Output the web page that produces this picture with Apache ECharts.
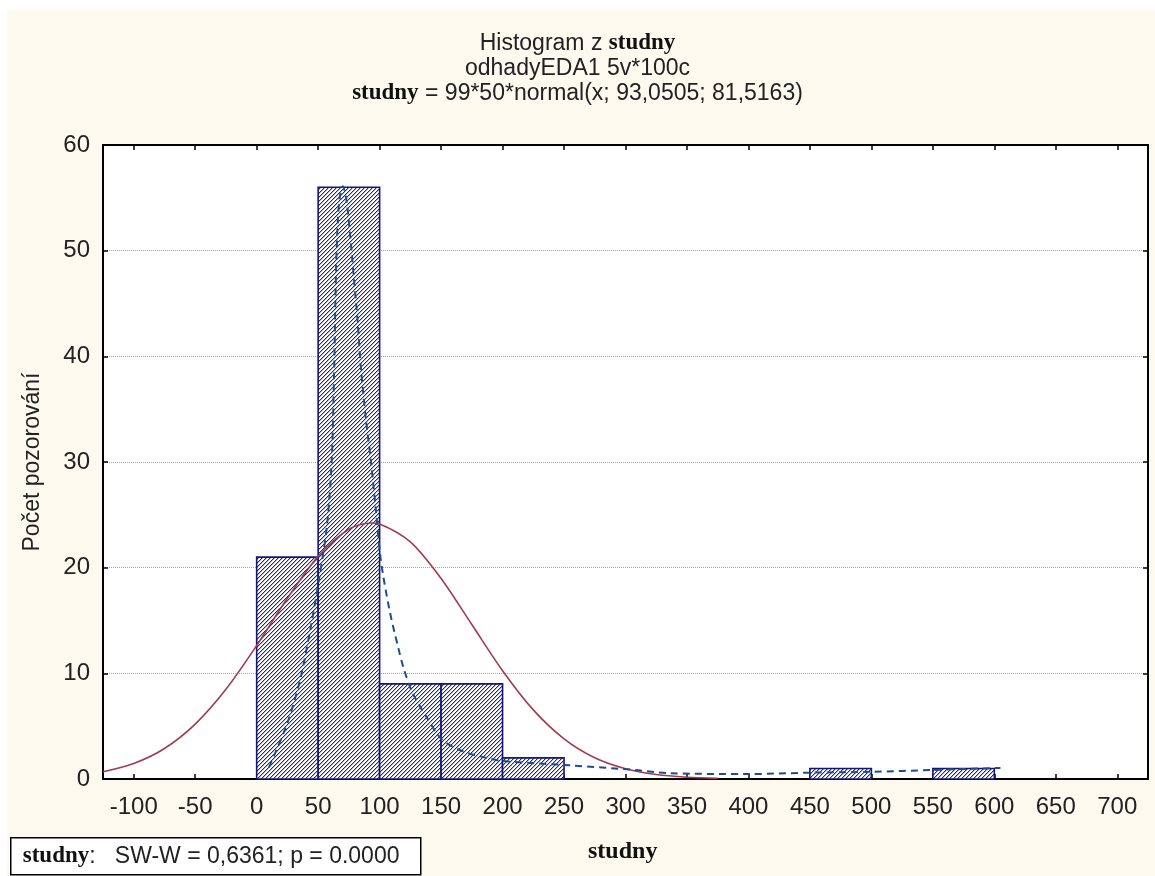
<!DOCTYPE html>
<html>
<head>
<meta charset="utf-8">
<script src="https://cdn.jsdelivr.net/npm/echarts@6/dist/echarts.min.js"></script>
<style>
  html, body { margin: 0; padding: 0; background: #ffffff; }
  #chart { width: 1155px; height: 876px; }
</style>
</head>
<body>
<div id="chart"></div>
<script>
// Histogram bins of "studny" (bin start, bin end, count)
const binStart = [0, 50, 100, 150, 200, 450, 550];
const binEnd   = [50, 100, 150, 200, 250, 500, 600];
const counts   = [21, 56, 9, 9, 2, 1, 1];

// Fitted normal curve: 99*50*normal(x; 93,0505; 81,5163)
const normalX = [-125, -100, -75, -50, -25, 0, 25, 50, 75, 93, 100, 125, 150, 175, 200, 225, 250, 275, 300, 325, 350, 375];
const normalY = [0.68, 1.47, 2.89, 5.20, 8.49, 12.63, 17.10, 21.07, 23.64, 24.23, 24.14, 22.44, 18.98, 14.62, 10.25, 6.54, 3.80, 2.01, 0.97, 0.42, 0.17, 0.06];

// Second fitted curve (dashed)
const fitX = [10, 25, 36, 44, 51, 57, 61, 63, 64.5, 66, 67.5, 70, 73, 76, 79, 82, 85, 89, 93, 97, 101, 108, 115, 120, 127, 138, 151, 168, 187, 200, 254, 308, 335, 400, 450, 500, 550, 605];
const fitY = [1.1, 5.3, 9.7, 14.4, 19.1, 23.8, 30.0, 38.6, 48.0, 52.8, 55.0, 56.1, 54.8, 51.5, 47.5, 43.5, 38.6, 33.9, 30.0, 25.4, 20.7, 16.0, 12.5, 10.3, 8.1, 5.9, 3.7, 2.6, 2.0, 1.7, 1.3, 0.85, 0.55, 0.47, 0.6, 0.68, 0.85, 1.05];

// Axis ticks
const xTicks = [-100, -50, 0, 50, 100, 150, 200, 250, 300, 350, 400, 450, 500, 550, 600, 650, 700];

const histData = binStart.map((s, i) => [s, binEnd[i], counts[i]]);
const normalData = normalX.map((x, i) => [x, normalY[i]]);
const fitData = fitX.map((x, i) => [x, fitY[i]]);

// Diagonal hatch pattern for the bars
function makeHatch() {
  const c = document.createElement('canvas');
  c.width = 4; c.height = 4;
  const g = c.getContext('2d');
  g.fillStyle = '#ffffff';
  g.fillRect(0, 0, 4, 4);
  for (let i = 0; i < 4; i++) {
    g.fillStyle = '#2a2a5e';
    g.fillRect(i, 3 - i, 1, 1);
    g.fillStyle = '#b4b4cc';
    g.fillRect(i, (4 - i) % 4, 1, 1);
  }
  return c;
}
const hatch = { image: makeHatch(), repeat: 'repeat' };

const sans = 'Liberation Sans, Arial, sans-serif';
const serif = 'Liberation Serif, Times New Roman, serif';

const chart = echarts.init(document.getElementById('chart'), null, { renderer: 'canvas' });

const axisLineStyle = { show: true, onZero: false, lineStyle: { color: '#000', width: 2 } };
const tickStyle = { show: true, inside: true, length: 5, lineStyle: { color: '#000', width: 1.5 } };

function richLine(boldPart, rest, size) {
  return {
    text: (boldPart ? '{b|' + boldPart + '}' : '') + '{a|' + rest + '}',
    rich: {
      a: { fontFamily: sans, fontSize: size, fill: '#222' },
      b: { fontFamily: serif, fontSize: size, fontWeight: 'bold', fill: '#111' }
    }
  };
}

chart.setOption({
  animation: false,
  backgroundColor: '#ffffff',
  graphic: [
    { type: 'rect', z: -10, shape: { x: 7, y: 10, width: 1148, height: 866 }, style: { fill: '#fcfaee' } },
    {
      type: 'text', left: 'center', top: 32,
      style: { text: '{a|Histogram z }{b|studny}', rich: {
        a: { fontFamily: sans, fontSize: 23, fill: '#222' },
        b: { fontFamily: serif, fontSize: 23, fontWeight: 'bold', fill: '#111' } } }
    },
    {
      type: 'text', left: 'center', top: 57,
      style: { text: 'odhadyEDA1 5v*100c', fontFamily: sans, fontSize: 23, fill: '#222' }
    },
    {
      type: 'text', left: 'center', top: 82,
      style: richLine('studny', ' = 99*50*normal(x; 93,0505; 81,5163)', 23)
    },
    {
      type: 'group', left: 10, top: 837,
      children: [
        { type: 'rect', shape: { x: 0, y: 0, width: 410, height: 37 }, style: { fill: '#ffffff', stroke: '#000', lineWidth: 1.5 } },
        { type: 'text', x: 12, y: 7, style: richLine('studny', ':   SW-W = 0,6361; p = 0.0000', 23) }
      ]
    },
    {
      type: 'text', x: 588, y: 840,
      style: { text: 'studny', fontFamily: serif, fontSize: 24, fontWeight: 'bold', fill: '#111' }
    }
  ],
  grid: { left: 103, right: 7, top: 145, bottom: 97, show: true, backgroundColor: '#ffffff', borderWidth: 0 },
  xAxis: [
    {
      type: 'value', min: -125, max: 725, position: 'bottom',
      axisLine: axisLineStyle,
      axisTick: Object.assign({ customValues: xTicks }, tickStyle),
      axisLabel: { customValues: xTicks, margin: 16, fontFamily: sans, fontSize: 24, color: '#222' },
      splitLine: { show: false }
    },
    {
      type: 'value', min: -125, max: 725, position: 'top',
      axisLine: axisLineStyle,
      axisTick: Object.assign({ customValues: xTicks }, tickStyle),
      axisLabel: { show: false },
      splitLine: { show: false }
    }
  ],
  yAxis: [
    {
      type: 'value', min: 0, max: 60, interval: 10, position: 'left',
      name: 'Počet pozorování', nameLocation: 'middle', nameGap: 59, nameRotate: 90,
      nameTextStyle: { fontFamily: sans, fontSize: 23, color: '#222' },
      axisLine: axisLineStyle,
      axisTick: tickStyle,
      axisLabel: { margin: 13, fontFamily: sans, fontSize: 24, color: '#222' },
      splitLine: { show: true, lineStyle: { color: '#a8a8a8', type: 'dotted', width: 1 } }
    },
    {
      type: 'value', min: 0, max: 60, interval: 10, position: 'right',
      axisLine: axisLineStyle,
      axisTick: tickStyle,
      axisLabel: { show: false },
      splitLine: { show: false }
    }
  ],
  series: [
    {
      type: 'custom',
      xAxisIndex: 0, yAxisIndex: 0,
      data: histData,
      encode: { x: [0, 1], y: 2 },
      renderItem: function (params, api) {
        const p0 = api.coord([api.value(0), api.value(2)]);
        const p1 = api.coord([api.value(1), 0]);
        return {
          type: 'rect',
          shape: { x: p0[0], y: p0[1], width: p1[0] - p0[0], height: p1[1] - p0[1] },
          style: { fill: hatch, stroke: '#14147a', lineWidth: 1.6 }
        };
      },
      z: 2
    },
    {
      type: 'line', xAxisIndex: 0, yAxisIndex: 0,
      data: normalData, smooth: 0.3, showSymbol: false, symbol: 'none',
      lineStyle: { color: '#a33a4e', width: 1.6 },
      z: 3
    },
    {
      type: 'line', xAxisIndex: 0, yAxisIndex: 0,
      data: fitData, smooth: 0.3, showSymbol: false, symbol: 'none',
      lineStyle: { color: '#1c4d8c', width: 2, type: [7, 5] },
      z: 4
    }
  ]
});
</script>
</body>
</html>
